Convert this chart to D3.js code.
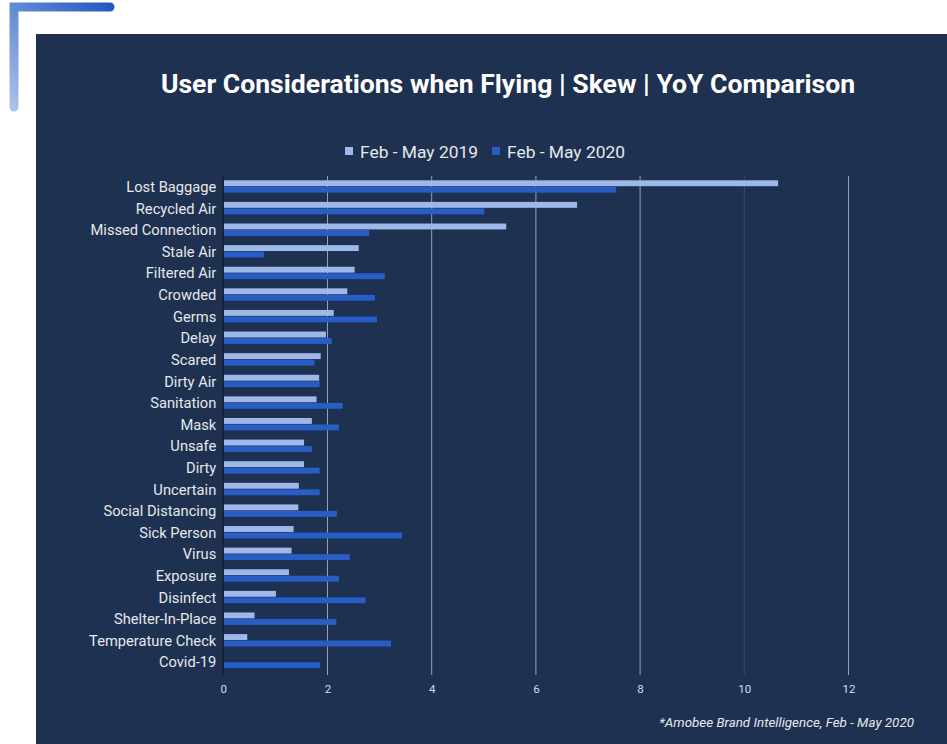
<!DOCTYPE html>
<html>
<head>
<meta charset="utf-8">
<script src="https://cdn.jsdelivr.net/npm/d3@7"></script>
<style>
  body { margin: 0; background: #ffffff; }
  svg { display: block; font-family: Roboto, "Noto Sans", sans-serif; }
</style>
</head>
<body>
<svg id="chart" width="947" height="744"></svg>
<script>
// data
var categories = ["Lost Baggage", "Recycled Air", "Missed Connection", "Stale Air", "Filtered Air",
    "Crowded", "Germs", "Delay", "Scared", "Dirty Air", "Sanitation", "Mask", "Unsafe", "Dirty",
    "Uncertain", "Social Distancing", "Sick Person", "Virus", "Exposure", "Disinfect",
    "Shelter-In-Place", "Temperature Check", "Covid-19"];
var series2019 = [10.65, 6.79, 5.43, 2.60, 2.52, 2.38, 2.12, 1.97, 1.87, 1.84, 1.79, 1.70, 1.55, 1.55,
    1.45, 1.44, 1.35, 1.31, 1.26, 1.01, 0.60, 0.46, 0];
var series2020 = [7.54, 5.01, 2.80, 0.78, 3.10, 2.91, 2.95, 2.08, 1.75, 1.85, 2.29, 2.22, 1.70, 1.85,
    1.85, 2.18, 3.43, 2.43, 2.22, 2.73, 2.17, 3.22, 1.86];
var seriesNames = ["Feb - May 2019", "Feb - May 2020"];
var tickValues = [0, 2, 4, 6, 8, 10, 12];

var colors = ["#9db8e9", "#275dc4"];
var bg = "#1f3150";

var svg = d3.select("#chart");

// corner decoration
var grad = svg.append("defs").append("linearGradient")
    .attr("id", "cornerGrad")
    .attr("gradientUnits", "userSpaceOnUse")
    .attr("x1", 14).attr("y1", 108).attr("x2", 110).attr("y2", 6);
grad.append("stop").attr("offset", "0%").attr("stop-color", "#a9c1ea");
grad.append("stop").attr("offset", "100%").attr("stop-color", "#2558c0");

svg.append("path")
    .attr("d", "M14,107 L14,7 L110,7")
    .attr("fill", "none")
    .attr("stroke", "url(#cornerGrad)")
    .attr("stroke-width", 9)
    .attr("stroke-linecap", "round")
    .attr("stroke-linejoin", "miter");

// panel
svg.append("rect")
    .attr("x", 36).attr("y", 34)
    .attr("width", 911).attr("height", 710)
    .attr("fill", bg);

svg.append("text")
    .attr("x", 508).attr("y", 93)
    .attr("text-anchor", "middle")
    .attr("fill", "#ffffff")
    .attr("font-size", 26.6)
    .attr("font-weight", "bold")
    .text("User Considerations when Flying | Skew | YoY Comparison");

// legend
var legend = svg.append("g");
var legendX = [345, 492];
seriesNames.forEach(function(name, i) {
    legend.append("rect")
        .attr("x", legendX[i]).attr("y", 147)
        .attr("width", 8).attr("height", 8)
        .attr("fill", colors[i]);
    legend.append("text")
        .attr("x", legendX[i] + 15).attr("y", 158)
        .attr("fill", "#e6e8ec")
        .attr("font-size", 17.4)
        .text(name);
});

// scales
var x = d3.scaleLinear().domain([0, 12]).range([223.3, 848.5]);
var y = d3.scaleBand().domain(categories).range([176.5, 673.5]);
var inner = d3.scaleBand().domain([0, 1]).range([3.8, 16.8]);

// gridlines
svg.append("g").selectAll("line")
    .data(tickValues.slice(1))
    .enter().append("line")
    .attr("x1", function(d) { return x(d); })
    .attr("x2", function(d) { return x(d); })
    .attr("y1", 176).attr("y2", 675)
    .attr("stroke", function(d) { return d === 10 ? "#3a4a64" : "#9aa1ad"; })
    .attr("stroke-width", 1);

// bars
var rows = svg.append("g").selectAll("g")
    .data(categories)
    .enter().append("g")
    .attr("transform", function(d) { return "translate(0," + y(d) + ")"; });

[series2019, series2020].forEach(function(vals, s) {
    rows.append("rect")
        .attr("x", x(0))
        .attr("y", inner(s))
        .attr("width", function(d, i) { return Math.max(0, x(vals[i]) - x(0)); })
        .attr("height", inner.bandwidth() - 0.6)
        .attr("fill", colors[s]);
});

// zero axis
svg.append("line")
    .attr("x1", x(0)).attr("x2", x(0))
    .attr("y1", 176).attr("y2", 675)
    .attr("stroke", "#101a2c")
    .attr("stroke-width", 1.2);

// category labels
var yAxis = d3.axisLeft(y).tickSize(0).tickPadding(7);
var yg = svg.append("g")
    .attr("transform", "translate(" + x(0) + ",0)")
    .call(yAxis);
yg.select(".domain").remove();
yg.selectAll("text")
    .attr("fill", "#e6e8ec")
    .attr("font-size", 14.7)
    .attr("font-family", "Roboto, sans-serif");

// x ticks
var xAxis = d3.axisBottom(x).tickValues(tickValues).tickSize(0).tickPadding(10);
var xg = svg.append("g")
    .attr("transform", "translate(0,675)")
    .call(xAxis);
xg.select(".domain").remove();
xg.selectAll("text")
    .attr("fill", "#d8dce3")
    .attr("font-size", 11.5)
    .attr("font-family", "Roboto, sans-serif");

// source note
svg.append("text")
    .attr("x", 914).attr("y", 727)
    .attr("text-anchor", "end")
    .attr("fill", "#e6e8ec")
    .attr("font-size", 13.4)
    .attr("font-style", "italic")
    .text("*Amobee Brand Intelligence, Feb - May 2020");
</script>
</body>
</html>
